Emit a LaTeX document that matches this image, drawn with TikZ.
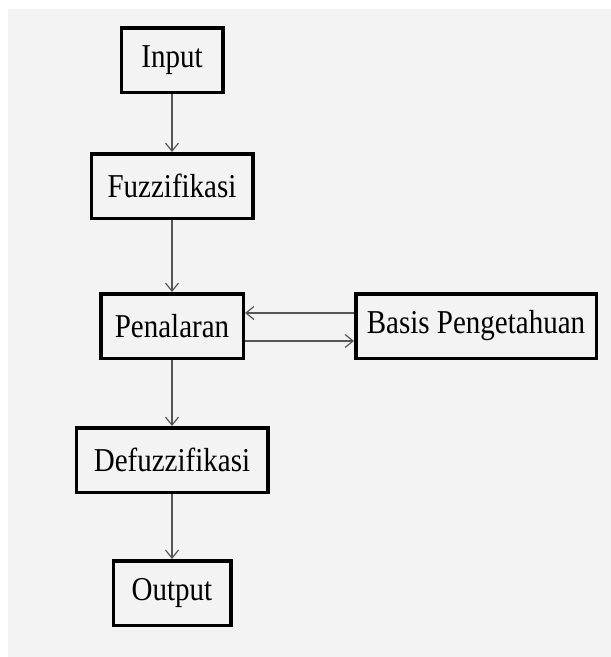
\documentclass[tikz,border=0pt]{standalone}
\usepackage{fontspec}
\setmainfont{Liberation Serif}
\usetikzlibrary{positioning,arrows.meta}
\definecolor{bggray}{HTML}{F3F3F3}
\definecolor{arrgray}{HTML}{555555}
\newcommand{\tall}[1]{\scalebox{1}[1.15]{#1}}
\begin{document}
\begin{tikzpicture}[x=1pt,y=1pt,
		box/.style = {shape=rectangle, draw, line width=3.5pt, inner sep=0pt,
			minimum height=64.5pt, font=\fontsize{29}{34}\selectfont},
		arr/.style = {draw=arrgray, line width=1.2pt, -{Straight Barb[length=8pt,width=13pt]}}]
		\fill[bggray] (8,-9) rectangle (611,-657);
		\useasboundingbox (0,0) rectangle (611,-657);
		\node[box, minimum width=101.5pt] (input) at (172,-60) {\tall{Input}};
		\node[box, minimum width=161.5pt, below=58pt of input] (fuzz) {\tall{Fuzzifikasi}};
		\node[box, minimum width=142.5pt, below=72pt of fuzz] (penalaran) {\tall{Penalaran}};
		\node[box, minimum width=240.5pt, right=109pt of penalaran] (basis) {\tall{Basis Pengetahuan}};
		\node[box, minimum width=191.5pt, below=66pt of penalaran] (defuzz) {\tall{Defuzzifikasi}};
		\node[box, minimum width=117.5pt, below=65pt of defuzz] (output) {\tall{Output}};
		\draw[arr] (input) -- (fuzz);
		\draw[arr] (fuzz) -- (penalaran);
		\draw[arr] ([yshift=13pt]basis.west) -- ([yshift=13pt]penalaran.east); %rules back
		\draw[arr] ([yshift=-15pt]penalaran.east) -- ([yshift=-15pt]basis.west);
		\draw[arr] (penalaran) -- (defuzz);
		\draw[arr] (defuzz) -- (output);
	\end{tikzpicture}
\end{document}
